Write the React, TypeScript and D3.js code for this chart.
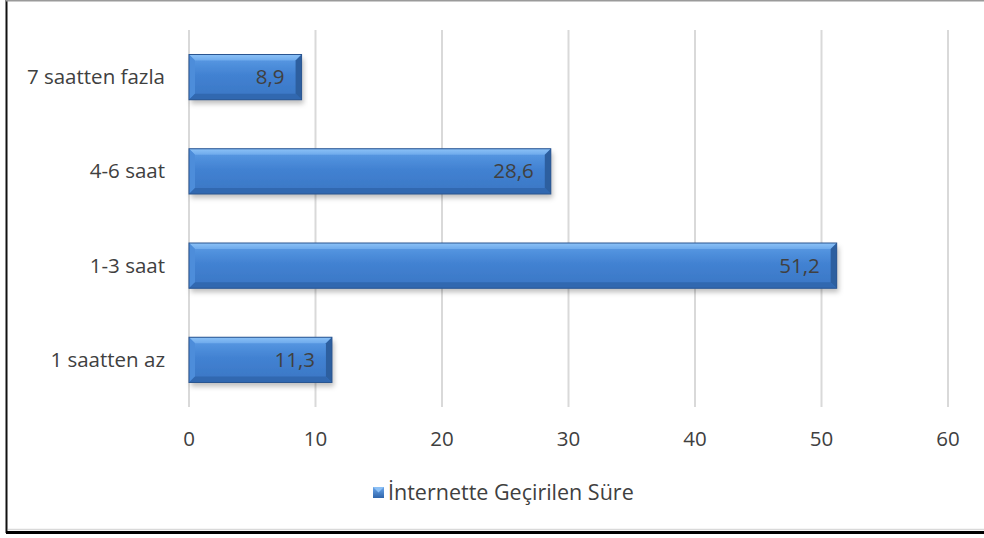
import React from "react";
import * as d3 from "d3";

const categories = ["7 saatten fazla", "4-6 saat", "1-3 saat", "1 saatten az"];
const values = [8.9, 28.6, 51.2, 11.3];
const xTicks = [0, 10, 20, 30, 40, 50, 60];
const seriesName = "İnternette Geçirilen Süre";

const W = 984;
const H = 538;
const FONT = "'Open Sans', sans-serif";
const FS = 20.5;

export default function App() {
  const x = d3.scaleLinear().domain([0, 60]).range([189, 948]);
  const y = d3.scaleBand<string>().domain(categories).range([30, 407]).paddingInner(0.52).paddingOuter(0.26);
  const bh = y.bandwidth();
  const bev = 6;
  return (
    <svg width={W} height={H} style={{ position: "absolute", left: 0, top: 0 }}>
      <defs>
        <linearGradient id="barG" x1="0" y1="0" x2="0" y2="1">
          <stop offset="0" stopColor="#5c9de6" />
          <stop offset="0.45" stopColor="#4282d2" />
          <stop offset="1" stopColor="#3a76c4" />
        </linearGradient>
        <linearGradient id="topG" x1="0" y1="0" x2="0" y2="1">
          <stop offset="0" stopColor="#8cc2f7" />
          <stop offset="1" stopColor="#6eaaec" />
        </linearGradient>
        <filter id="sh" x="-5%" y="-20%" width="110%" height="160%">
          <feDropShadow dx="2" dy="4" stdDeviation="2.5" floodColor="#000" floodOpacity="0.25" />
        </filter>
        <linearGradient id="legG" x1="0" y1="0" x2="0" y2="1">
          <stop offset="0" stopColor="#6aa6ea" />
          <stop offset="1" stopColor="#2f65ab" />
        </linearGradient>
      </defs>
      <rect x={0} y={0} width={W} height={H} fill="#fff" />
      {/* border */}
      <line x1={6.5} y1={0} x2={6.5} y2={533} stroke="#111" strokeWidth={2} />
      <line x1={6} y1={0.5} x2={W} y2={0.5} stroke="#9a9a9a" strokeWidth={2} />
      <line x1={8} y1={529.5} x2={W} y2={529.5} stroke="#d9d9d9" strokeWidth={1.5} />
      <line x1={6} y1={532.5} x2={W} y2={532.5} stroke="#000" strokeWidth={3} />
      {/* grid */}
      {xTicks.map((t) => (
        <line key={t} x1={x(t)} x2={x(t)} y1={30} y2={407} stroke="#d9d9d9" strokeWidth={2} />
      ))}
      {/* bars */}
      {categories.map((c, i) => {
        const x0 = x(0);
        const x1 = x(values[i]);
        const y0 = y(c)!;
        const y1 = y0 + bh;
        return (
          <g key={c}>
            <g filter="url(#sh)">
              <rect x={x0} y={y0} width={x1 - x0} height={bh} fill="url(#barG)" />
            </g>
            <polygon points={`${x0},${y0} ${x1},${y0} ${x1 - bev},${y0 + bev} ${x0 + bev},${y0 + bev}`} fill="url(#topG)" />
            <polygon points={`${x0},${y0} ${x0 + bev},${y0 + bev} ${x0 + bev},${y1 - bev} ${x0},${y1}`} fill="#4d8dda" />
            <polygon points={`${x1},${y0} ${x1},${y1} ${x1 - bev},${y1 - bev} ${x1 - bev},${y0 + bev}`} fill="#2d5f9f" />
            <polygon points={`${x0},${y1} ${x1},${y1} ${x1 - bev},${y1 - bev} ${x0 + bev},${y1 - bev}`} fill="#3168b0" />
            <rect x={x0} y={y0} width={x1 - x0} height={bh} fill="none" stroke="#2a5590" strokeWidth={1} />
            <text x={x1 - 17} y={y0 + bh / 2 + 7} textAnchor="end" fontFamily={FONT} fontSize={FS} fill="#404040">
              {values[i].toFixed(1).replace(".", ",")}
            </text>
            <text x={165} y={y0 + bh / 2 + 7} textAnchor="end" fontFamily={FONT} fontSize={FS} fill="#404040">
              {c}
            </text>
          </g>
        );
      })}
      {/* x tick labels */}
      {xTicks.map((t) => (
        <text key={t} x={x(t)} y={446} textAnchor="middle" fontFamily={FONT} fontSize={FS} fill="#404040">
          {t}
        </text>
      ))}
      {/* legend */}
      <rect x={373} y={487} width={11} height={11} fill="url(#legG)" />
      <polygon points="373,487 384,487 378.5,492.5" fill="#8cc0f5" />
      <text x={388} y={500} fontFamily={FONT} fontSize={21.5} fill="#404040">
        {seriesName}
      </text>
    </svg>
  );
}
